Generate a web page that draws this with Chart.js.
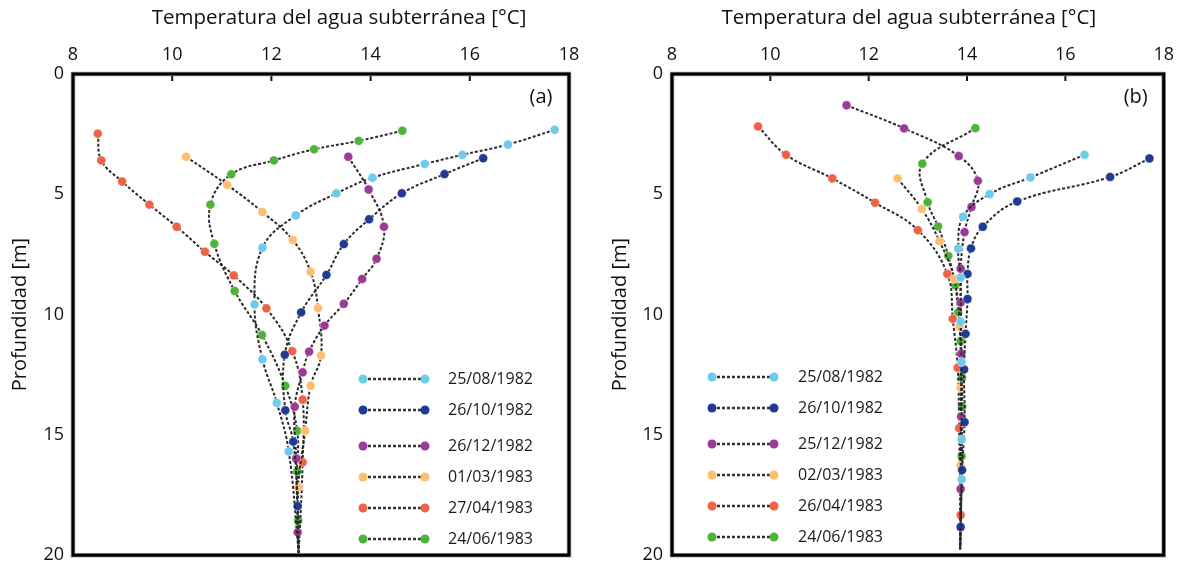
<!DOCTYPE html>
<html>
<head>
<meta charset="utf-8">
<script src="https://cdn.jsdelivr.net/npm/chart.js@4.4.1/dist/chart.umd.min.js"></script>
<style>
  html, body { margin: 0; padding: 0; background: #fff; }
  .panel { position: absolute; top: 0; width: 591px; height: 575px; }
  #left { left: 0; }
  #right { left: 591px; }
</style>
</head>
<body>
<div class="panel" id="left"><canvas id="chartA"></canvas></div>
<div class="panel" id="right"><canvas id="chartB"></canvas></div>
<script>
// Perfiles de temperatura del agua subterránea
const X_TITLE = 'Temperatura del agua subterránea [°C]';
const Y_TITLE = 'Profundidad [m]';
const X_TICKS = [8, 10, 12, 14, 16, 18];
const Y_TICKS = [0, 5, 10, 15, 20];
const COLORS = ['#6ecbea', '#1f3b94', '#9c3a97', '#fdbf6f', '#ee6346', '#4fb33a'];

// (a)
const labelsA = ['25/08/1982', '26/10/1982', '26/12/1982', '01/03/1983', '27/04/1983', '24/06/1983'];
const cyanTempA   = [17.71, 16.77, 15.85, 15.09, 14.04, 13.31, 12.49, 11.82, 11.66, 11.82, 12.11, 12.35, 12.55];
const cyanDepthA  = [2.32, 2.93, 3.36, 3.74, 4.31, 4.96, 5.88, 7.22, 9.58, 11.86, 13.67, 15.69, 19.9];
const blueTempA   = [16.27, 15.49, 14.63, 13.97, 13.46, 13.11, 12.60, 12.27, 12.28, 12.44, 12.53, 12.55];
const blueDepthA  = [3.50, 4.16, 4.96, 6.04, 7.07, 8.35, 9.91, 11.67, 13.98, 15.28, 17.96, 19.9];
const purpTempA   = [13.55, 13.96, 14.27, 14.12, 13.83, 13.46, 13.07, 12.76, 12.63, 12.47, 12.50, 12.53, 12.55];
const purpDepthA  = [3.44, 4.80, 6.35, 7.68, 8.52, 9.55, 10.46, 11.54, 12.40, 13.83, 15.98, 19.05, 19.9];
const orngTempA   = [10.28, 11.11, 11.82, 12.43, 12.79, 12.94, 13.00, 12.79, 12.68, 12.54, 12.55];
const orngDepthA  = [3.44, 4.61, 5.74, 6.90, 8.22, 9.74, 11.70, 12.96, 14.83, 17.17, 19.9];
const redTempA    = [8.50, 8.57, 8.99, 9.54, 10.09, 10.66, 11.24, 11.90, 12.42, 12.63, 12.63, 12.55];
const redDepthA   = [2.48, 3.59, 4.47, 5.43, 6.35, 7.39, 8.37, 9.74, 11.52, 13.54, 16.14, 19.9];
const greenTempA  = [14.64, 13.76, 12.86, 12.05, 11.19, 10.77, 10.85, 11.26, 11.81, 12.28, 12.52, 12.52, 12.54, 12.55];
const greenDepthA = [2.36, 2.78, 3.13, 3.59, 4.17, 5.43, 7.06, 9.02, 10.85, 12.96, 14.83, 16.53, 18.57, 19.9];

// (b)
const labelsB = ['25/08/1982', '26/10/1982', '25/12/1982', '02/03/1983', '26/04/1983', '24/06/1983'];
const cyanTempB   = [16.39, 15.29, 14.46, 13.92, 13.82, 13.87, 13.87, 13.89, 13.89, 13.89, 13.86];
const cyanDepthB  = [3.36, 4.30, 4.99, 5.93, 7.26, 8.46, 10.30, 11.97, 15.19, 16.84, 19.75];
const blueTempB   = [17.71, 16.91, 15.02, 14.32, 14.08, 14.01, 14.01, 13.97, 13.94, 13.95, 13.90, 13.87, 13.86];
const blueDepthB  = [3.51, 4.28, 5.30, 6.35, 7.25, 8.31, 9.35, 10.80, 12.28, 14.47, 16.46, 18.83, 19.75];
const purpTempB   = [11.55, 12.72, 13.83, 14.22, 14.09, 13.95, 13.87, 13.87, 13.88, 13.88, 13.87, 13.86];
const purpDepthB  = [1.30, 2.26, 3.41, 4.44, 5.53, 6.57, 8.09, 9.50, 11.63, 14.24, 17.25, 19.75];
const orngTempB   = [12.59, 13.08, 13.44, 13.74, 13.85, 13.87, 13.87, 13.86];
const orngDepthB  = [4.34, 5.61, 6.95, 8.52, 10.50, 13.04, 16.26, 19.75];
const redTempB    = [9.75, 10.32, 11.26, 12.13, 13.00, 13.60, 13.71, 13.81, 13.84, 13.87, 13.86];
const redDepthB   = [2.18, 3.36, 4.34, 5.35, 6.49, 8.31, 10.18, 12.21, 14.72, 18.33, 19.75];
const greenTempB  = [14.17, 13.09, 13.20, 13.41, 13.62, 13.76, 13.82, 13.87, 13.90, 13.90, 13.89, 13.86];
const greenDepthB = [2.25, 3.73, 5.33, 6.34, 7.56, 8.78, 9.91, 11.10, 12.62, 13.83, 15.88, 19.75];

const FONT = '"Open Sans", "DejaVu Sans", sans-serif';

function toPoints(temps, depths) {
  return temps.map((t, i) => ({ x: t, y: depths[i] }));
}

// marco grueso, marcas interiores del eje superior, título, etiqueta del panel y leyenda
const framePlugin = {
  id: 'frame',
  afterDraw(chart) {
    const o = chart.options.plugins.frame;
    const { ctx, chartArea: a, scales } = chart;
    ctx.save();

    // marcas hacia dentro en el eje superior
    ctx.strokeStyle = '#111';
    ctx.lineWidth = 2;
    for (const v of X_TICKS.slice(1, -1)) {
      const x = scales.x.getPixelForValue(v);
      ctx.beginPath();
      ctx.moveTo(x, a.top);
      ctx.lineTo(x, a.top + 7);
      ctx.stroke();
    }

    ctx.strokeStyle = '#9a9a9a';
    ctx.lineWidth = 4.5;
    ctx.strokeRect(a.left, a.top, a.right - a.left, a.bottom - a.top);
    ctx.strokeStyle = '#000';
    ctx.lineWidth = 3;
    ctx.strokeRect(a.left, a.top, a.right - a.left, a.bottom - a.top);

    ctx.fillStyle = '#111';
    ctx.textAlign = 'center';
    ctx.textBaseline = 'middle';
    ctx.font = '20.5px ' + FONT;
    ctx.fillText(X_TITLE, (a.left + a.right) / 2 + o.titleShift, 18);

    ctx.font = '20px ' + FONT;
    ctx.fillText(o.tag, a.right - 28, a.top + 23);

    // leyenda
    ctx.font = '16px ' + FONT;
    ctx.textAlign = 'left';
    chart.data.datasets.forEach((ds, i) => {
      const y = o.legendRows[i];
      const x1 = a.left + o.legendX[0], x2 = a.left + o.legendX[1];
      ctx.strokeStyle = '#333';
      ctx.lineWidth = 2.5;
      ctx.setLineDash([3, 2]);
      ctx.beginPath();
      ctx.moveTo(x1, y);
      ctx.lineTo(x2, y);
      ctx.stroke();
      ctx.setLineDash([]);
      ctx.fillStyle = ds.pointBackgroundColor;
      for (const x of [x1, x2]) {
        ctx.beginPath();
        ctx.arc(x, y, 4.5, 0, Math.PI * 2);
        ctx.fill();
      }
      ctx.fillStyle = '#1a1a1a';
      ctx.fillText(ds.label, a.left + o.legendX[2], y);
    });
    ctx.restore();
  }
};

function makePanel(canvasId, labels, series, cfg) {
  const datasets = series.map((s, i) => ({
    label: labels[i],
    data: toPoints(s[0], s[1]),
    borderColor: '#2a2a2a',
    borderWidth: 2,
    borderDash: [3, 2],
    tension: 0.4,
    fill: false,
    pointBackgroundColor: COLORS[i],
    pointBorderColor: 'rgba(255,255,255,0.7)',
    pointBorderWidth: 0.6,
    pointRadius: ctx => (ctx.dataIndex === s[0].length - 1 ? 0 : 4.5),
  }));

  return new Chart(document.getElementById(canvasId), {
    type: 'line',
    data: { datasets },
    plugins: [framePlugin],
    options: {
      responsive: true,
      maintainAspectRatio: false,
      animation: false,
      devicePixelRatio: 1,
      layout: { padding: { left: 0, top: 0, right: cfg.padRight, bottom: 9 } },
      scales: {
        x: {
          type: 'linear',
          position: 'top',
          min: 8,
          max: 18,
          afterBuildTicks: s => { s.ticks = X_TICKS.map(v => ({ value: v })); },
          afterFit: s => { s.height = 74; },
          ticks: { color: '#111', font: { size: 18, family: FONT }, padding: 8 },
          grid: { display: false, drawTicks: false },
          border: { display: false },
          title: { display: false },
        },
        y: {
          type: 'linear',
          reverse: true,
          min: 0,
          max: 20,
          afterBuildTicks: s => { s.ticks = Y_TICKS.map(v => ({ value: v })); },
          afterFit: s => { s.width = cfg.yWidth; },
          ticks: { color: '#111', font: { size: 18, family: FONT }, padding: cfg.yPad },
          grid: { display: false, drawTicks: false },
          border: { display: false },
          title: { display: true, text: Y_TITLE, color: '#111', font: { size: 20, family: FONT }, padding: { top: cfg.yTitlePad } },
        },
      },
      plugins: {
        legend: { display: false },
        tooltip: { enabled: false },
        frame: { tag: cfg.tag, titleShift: cfg.titleShift, legendRows: cfg.legendRows, legendX: cfg.legendX },
      },
    },
  });
}

makePanel('chartA', labelsA, [
  [cyanTempA, cyanDepthA], [blueTempA, blueDepthA], [purpTempA, purpDepthA],
  [orngTempA, orngDepthA], [redTempA, redDepthA], [greenTempA, greenDepthA],
], {
  tag: '(a)', padRight: 22, yWidth: 73, yPad: 9, yTitlePad: 8, titleShift: 18,
  legendRows: [379, 410, 446, 477, 508, 539],
  legendX: [290, 352, 375],
});

makePanel('chartB', labelsB, [
  [cyanTempB, cyanDepthB], [blueTempB, blueDepthB], [purpTempB, purpDepthB],
  [orngTempB, orngDepthB], [redTempB, redDepthB], [greenTempB, greenDepthB],
], {
  tag: '(b)', padRight: 15, yWidth: 81, yPad: 9, yTitlePad: 17, titleShift: -9,
  legendRows: [377, 408, 444, 475, 506, 537],
  legendX: [40, 102, 126],
});
</script>
</body>
</html>
